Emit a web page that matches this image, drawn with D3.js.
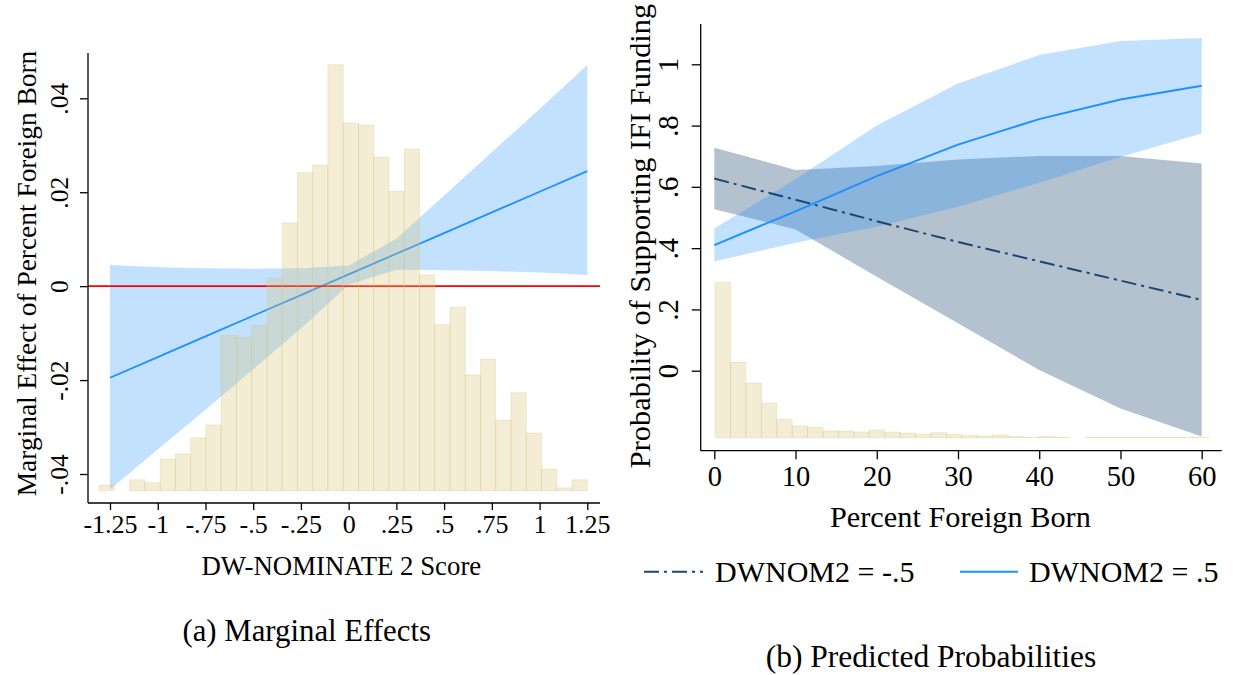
<!DOCTYPE html>
<html>
<head>
<meta charset="utf-8">
<script src="https://cdn.jsdelivr.net/npm/d3@7"></script>
<style>
  body { margin: 0; background: #fff; }
  svg { display: block; }
  text { font-family: "Liberation Serif", "Times New Roman", serif; fill: #000; }
  .tick line { stroke: #000; stroke-width: 1.3; }
</style>
</head>
<body>
<div id="chart"></div>
<script>
// ---- (a) marginal effects ----
const dwX = [-1.25, -1, -0.75, -0.5, -0.25, 0, 0.25, 0.5, 0.75, 1, 1.25];
const dwEffect = [-0.0195, -0.0151, -0.0107, -0.0063, -0.0019, 0.0025, 0.0069, 0.0113, 0.0157, 0.0201, 0.0245];
const dwUpper = [0.0045, 0.0040, 0.0038, 0.0037, 0.0038, 0.0044, 0.0101, 0.0193, 0.0285, 0.0377, 0.0471];
const dwLower = [-0.0433, -0.0348, -0.0263, -0.0177, -0.0090, 0.0003, 0.0035, 0.0034, 0.0032, 0.0029, 0.0024];
const dwTicks = [-1.25, -1, -0.75, -0.5, -0.25, 0, 0.25, 0.5, 0.75, 1, 1.25];
const dwTickLabels = ["-1.25", "-1", "-.75", "-.5", "-.25", "0", ".25", ".5", ".75", "1", "1.25"];
const meTicks = [-0.04, -0.02, 0, 0.02, 0.04];
const meTickLabels = ["-.04", "-.02", "0", ".02", ".04"];
// histogram of DW-NOMINATE 2 (density)
const dwBinStart = -1.307, dwBinWidth = 0.0799;
const dwDensity = [0.014, 0, 0.027, 0.020, 0.079, 0.092, 0.132, 0.164, 0.387, 0.382, 0.413,
  0.530, 0.668, 0.793, 0.812, 1.062, 0.917, 0.912, 0.832, 0.747, 0.852, 0.538, 0.414,
  0.458, 0.289, 0.328, 0.176, 0.244, 0.144, 0.054, 0.007, 0.027];

// ---- (b) predicted probabilities ----
const pctX = [0, 10, 20, 30, 40, 50, 60];
const probNeg = [0.627, 0.558, 0.488, 0.420, 0.357, 0.294, 0.231];
const probNegUpper = [0.728, 0.655, 0.668, 0.689, 0.701, 0.701, 0.676];
const probNegLower = [0.527, 0.461, 0.307, 0.155, 0.002, -0.123, -0.215];
const probPos = [0.410, 0.520, 0.635, 0.738, 0.821, 0.885, 0.930];
const probPosUpper = [0.464, 0.625, 0.800, 0.937, 1.030, 1.076, 1.086];
const probPosLower = [0.356, 0.418, 0.470, 0.535, 0.613, 0.698, 0.774];
const pctTicks = [0, 10, 20, 30, 40, 50, 60];
const probTicks = [0, 0.2, 0.4, 0.6, 0.8, 1];
const probTickLabels = ["0", ".2", ".4", ".6", ".8", "1"];
// histogram of percent foreign born (density)
const pctBinStart = 0.09, pctBinWidth = 1.899;
const pctDensity = [0.193, 0.094, 0.068, 0.043, 0.023, 0.0146, 0.0129, 0.0083, 0.0083, 0.0071,
  0.0096, 0.0071, 0.0058, 0.0042, 0.0062, 0.0042, 0.0025, 0.0021, 0.0034, 0.0016, 0.0006,
  0.0016, 0.0006, 0, 0.0006, 0.0006, 0.0006, 0.0006, 0.0006, 0.0006, 0.0006, 0.0006];

const seriesNames = ["DWNOM2 = -.5", "DWNOM2 = .5"];

const W = 1233, H = 675;
const SERIF = "'Liberation Serif', 'Times New Roman', serif";
const svg = d3.select("#chart").append("svg").attr("width", W).attr("height", H);
svg.append("rect").attr("width", W).attr("height", H).attr("fill", "#fff");

const NAVY = "#1a476f", BLUE = "#1e90ff", SAND = "rgb(215,195,118)";

// Stata-style axis: ticks only, labels in serif
function styleAxis(g, size) {
  g.select(".domain").remove();
  g.selectAll(".tick text")
    .style("font-family", SERIF)
    .style("font-size", size)
    .style("fill", "#000");
}

// vertical tick labels, rotated
function rotateYLabels(g, dist) {
  g.selectAll(".tick text")
    .attr("transform", "rotate(-90)")
    .attr("x", 0).attr("y", -dist).attr("dy", 0)
    .attr("text-anchor", "middle");
}

function histogram(g, vals, start, width, x, y2) {
  g.selectAll(null)
    .data(vals)
    .enter()
    .append("rect")
      .attr("x", (d, i) => x(start + i * width))
      .attr("width", (d, i) => x(start + (i + 1) * width) - x(start + i * width))
      .attr("y", d => y2(d))
      .attr("height", d => y2(0) - y2(d))
      .attr("fill", SAND).attr("fill-opacity", 0.3)
      .attr("stroke", SAND).attr("stroke-opacity", d => d > 0 ? 0.35 : 0)
      .attr("stroke-width", 0.8);
}

// =========== panel (a) ===========
{
  const x = d3.scaleLinear().domain([-1.25, 1.25]).range([110, 587.3]);
  const y = d3.scaleLinear().domain([-0.04, 0.04]).range([474, 98.3]);
  const y2 = d3.scaleLinear().domain([0, 1]).range([490.7, 89.7]);
  const left = 88, right = 600, top = 53, bottom = 503;
  const g = svg.append("g");

  const area = d3.area().x((d, i) => x(dwX[i])).y0((d, i) => y(dwLower[i])).y1((d, i) => y(dwUpper[i]));
  g.append("path").attr("d", area(dwX)).attr("fill", BLUE).attr("fill-opacity", 0.27);

  const line = d3.line().x((d, i) => x(dwX[i])).y(d => y(d));
  g.append("path").attr("d", line(dwEffect)).attr("fill", "none")
    .attr("stroke", BLUE).attr("stroke-width", 1.8);

  g.append("line").attr("x1", left).attr("x2", right).attr("y1", y(0)).attr("y2", y(0))
    .attr("stroke", "#ff0000").attr("stroke-width", 1.6);

  histogram(g, dwDensity, dwBinStart, dwBinWidth, x, y2);

  // axes
  const ax = g.append("g").attr("transform", `translate(${left},0)`)
    .call(d3.axisLeft(y).tickValues(meTicks).tickFormat((d, i) => meTickLabels[i]).tickSize(8).tickSizeOuter(0));
  styleAxis(ax, "25.5px");
  rotateYLabels(ax, 20);

  const bx = g.append("g").attr("transform", `translate(0,${bottom})`)
    .call(d3.axisBottom(x).tickValues(dwTicks).tickFormat((d, i) => dwTickLabels[i]).tickSize(7).tickSizeOuter(0));
  styleAxis(bx, "26px");
  bx.selectAll(".tick text").attr("y", 30).attr("dy", 0);

  g.append("line").attr("x1", left).attr("x2", left).attr("y1", top).attr("y2", bottom)
    .attr("stroke", "#000").attr("stroke-width", 1.3);
  g.append("line").attr("x1", left).attr("x2", right).attr("y1", bottom).attr("y2", bottom)
    .attr("stroke", "#000").attr("stroke-width", 1.3);

  g.append("text").attr("x", 341.3).attr("y", 575).attr("text-anchor", "middle")
    .style("font-size", "26.8px").text("DW-NOMINATE 2 Score");
  g.append("text").attr("transform", "translate(35.5,273.5) rotate(-90)").attr("text-anchor", "middle")
    .style("font-size", "27.4px").text("Marginal Effect of Percent Foreign Born");
  g.append("text").attr("x", 306.7).attr("y", 641).attr("text-anchor", "middle")
    .style("font-size", "30.8px").text("(a) Marginal Effects");
}

// =========== panel (b) ===========
{
  const x = d3.scaleLinear().domain([0, 60]).range([714.3, 1201.7]);
  const y = d3.scaleLinear().domain([0, 1]).range([370.7, 64.3]);
  const y2 = d3.scaleLinear().domain([0, 0.2]).range([437.7, 276.9]);
  const left = 700.7, right = 1221.7, top = 24, bottom = 450.7;
  const g = svg.append("g");

  const band = (lo, hi) => d3.area().x((d, i) => x(pctX[i])).y0((d, i) => y(lo[i])).y1((d, i) => y(hi[i]))(pctX);
  g.append("path").attr("d", band(probNegLower, probNegUpper)).attr("fill", NAVY).attr("fill-opacity", 0.33);
  g.append("path").attr("d", band(probPosLower, probPosUpper)).attr("fill", BLUE).attr("fill-opacity", 0.27);

  const line = d3.line().x((d, i) => x(pctX[i])).y(d => y(d));
  g.append("path").attr("d", line(probNeg)).attr("fill", "none")
    .attr("stroke", NAVY).attr("stroke-width", 2).attr("stroke-dasharray", "15,5,3,5");
  g.append("path").attr("d", line(probPos)).attr("fill", "none")
    .attr("stroke", BLUE).attr("stroke-width", 2);

  histogram(g, pctDensity, pctBinStart, pctBinWidth, x, y2);

  const ax = g.append("g").attr("transform", `translate(${left},0)`)
    .call(d3.axisLeft(y).tickValues(probTicks).tickFormat((d, i) => probTickLabels[i]).tickSize(9).tickSizeOuter(0));
  styleAxis(ax, "28.5px");
  rotateYLabels(ax, 22.4);

  const bx = g.append("g").attr("transform", `translate(0,${bottom})`)
    .call(d3.axisBottom(x).tickValues(pctTicks).tickSize(8.6).tickSizeOuter(0));
  styleAxis(bx, "28.5px");
  bx.selectAll(".tick text").attr("y", 35.3).attr("dy", 0);

  g.append("line").attr("x1", left).attr("x2", left).attr("y1", top).attr("y2", bottom)
    .attr("stroke", "#000").attr("stroke-width", 1.3);
  g.append("line").attr("x1", left).attr("x2", right).attr("y1", bottom).attr("y2", bottom)
    .attr("stroke", "#000").attr("stroke-width", 1.3);

  g.append("text").attr("x", 960.4).attr("y", 526.7).attr("text-anchor", "middle")
    .style("font-size", "30.3px").text("Percent Foreign Born");
  g.append("text").attr("transform", "translate(650,236) rotate(-90)").attr("text-anchor", "middle")
    .style("font-size", "30.4px").text("Probability of Supporting IFI Funding");

  // legend
  const leg = g.append("g");
  const items = [
    { x1: 644, x2: 703, tx: 715, color: NAVY, dash: "15,5,3,5" },
    { x1: 960, x2: 1018, tx: 1029, color: BLUE, dash: null }
  ];
  items.forEach((it, i) => {
    leg.append("line").attr("x1", it.x1).attr("x2", it.x2).attr("y1", 571.7).attr("y2", 571.7)
      .attr("stroke", it.color).attr("stroke-width", 2).attr("stroke-dasharray", it.dash);
    leg.append("text").attr("x", it.tx).attr("y", 581.7).style("font-size", "30px").text(seriesNames[i]);
  });

  g.append("text").attr("x", 931).attr("y", 667).attr("text-anchor", "middle")
    .style("font-size", "31.5px").text("(b) Predicted Probabilities");
}
</script>
</body>
</html>
